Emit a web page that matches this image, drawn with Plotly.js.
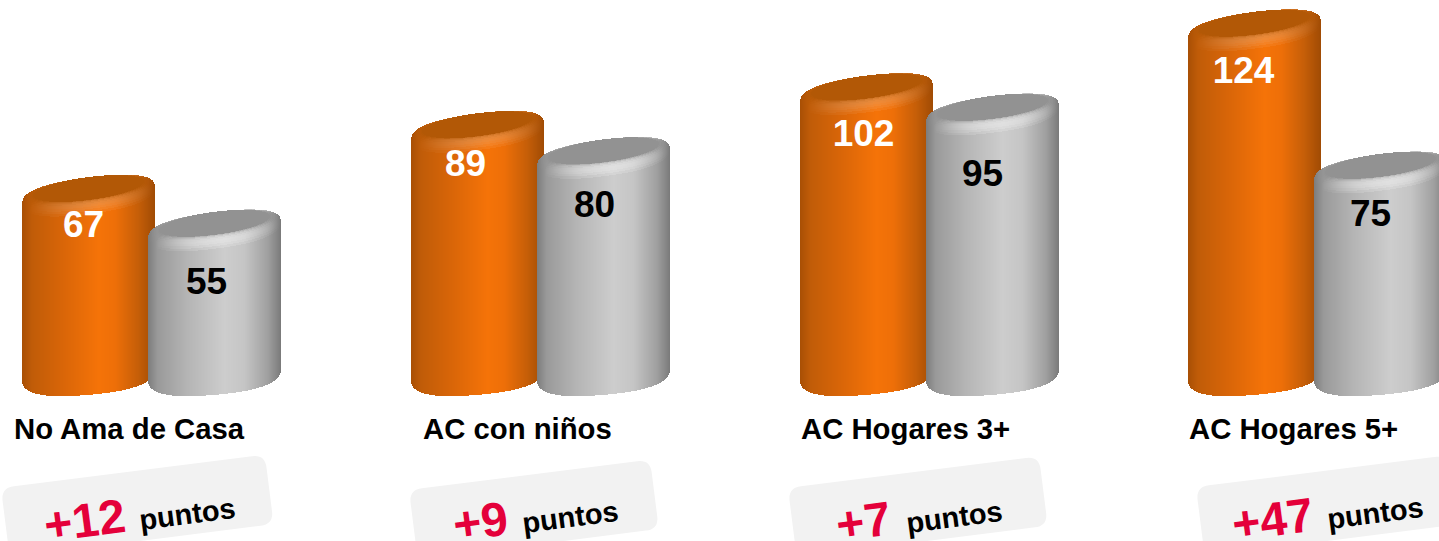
<!DOCTYPE html>
<html><head><meta charset="utf-8">
<script src="https://cdn.plot.ly/plotly-3.0.1.min.js"></script>
<style>html,body{margin:0;padding:0;background:#fff;overflow:hidden}#c{width:1439px;height:541px}</style>
</head><body><div id="c"></div>
<script>
const categories = ["No Ama de Casa", "AC con niños", "AC Hogares 3+", "AC Hogares 5+"];
const orangeValues = [67, 89, 102, 124];
const grayValues = [55, 80, 95, 75];
const pointLabels = ["+12", "+9", "+7", "+47"];
const pointsWord = "puntos";

// layout constants (pixels on the 1439x541 page)
const W = 1439, H = 541, PX_PER_UNIT = 2.9, ZERO_PX = 390.3, BASE_VALUE = 5.5;
const orangeCx = [88.5, 477.5, 866.5, 1254.5], grayDx = 126;
const RX = 66.5, B = 20.5, TILT_TOP = 0.125, TILT_BOT = 0.085, SUPER = 2.5;
const orangeLabelOff = [[-5,32],[-12,35],[-3,42],[-11,43]];
const grayLabelOff = [[-8,54],[-9,49],[-10,62],[-10,44]];
const catX = [13, 422, 800, 1188], catY = 428;
const boxes = [[1,488,266,70],[409,490,243,70],[788,488,253,70],[1196,487,253,70]];
const BOX_ANGLE = -7.2;
const bigPos = [[84,520],[480,521],[863,521],[1272,519]];
const wordPos = [[187,514],[570,517],[954,517],[1375,513]];

const FONT = "Liberation Sans, Arial, sans-serif";
const pxToVal = p => (ZERO_PX - p) / PX_PER_UNIT;
const lenToVal = p => p / PX_PER_UNIT;

const orangeStops = [[-1,[168,79,5]],[-.85,[192,92,8]],[-.4,[216,101,8]],[.15,[245,115,8]],[.4,[238,111,8]],[.75,[197,94,8]],[1,[160,75,4]]];
const grayStops = [[-1,[125,125,125]],[-.85,[154,154,154]],[-.4,[181,181,181]],[.15,[205,205,205]],[.45,[197,197,197]],[.8,[160,160,160]],[1,[122,122,122]]];
const orangeCap = [178,88,6], grayCap = [146,146,146];

function ramp(stops,u){
  for(let i=1;i<stops.length;i++){
    if(u<=stops[i][0]){
      const a=stops[i-1],b=stops[i],t=(u-a[0])/(b[0]-a[0]);
      return a[1].map((c,k)=>c+(b[1][k]-c)*t);
    }
  }
  return stops[stops.length-1][1];
}
const rgb = c => "rgb("+c.map(v=>Math.max(0,Math.min(255,Math.round(v)))).join(",")+")";
const curve = (u,p) => Math.pow(1-Math.pow(Math.abs(u),p),1/p);

function cylinder(cx, value, stops, cap, hi){
  const xs=[],ys=[],bases=[],cols=[];
  const cyVal = value;
  for(let px=Math.ceil(cx-RX);px<Math.floor(cx+RX);px++){
    const dx=px+.5-cx,u=dx/RX;
    if(Math.abs(u)>=1||px>=W)continue;
    const r=curve(u,SUPER);
    const top=cyVal+lenToVal(TILT_TOP*dx);
    const bot=BASE_VALUE+lenToVal(TILT_BOT*dx-B*r);
    xs.push(px+.5);ys.push(top-bot);bases.push(bot);cols.push(rgb(ramp(stops,u)));
  }
  const N=10;
  for(let k=0;k<=N;k++){
    const s=k/N,th=s*Math.PI/2;
    const a=RX-11*(1-Math.cos(th));
    const front=B-9*Math.sin(th);
    const back=18-6.5*Math.sin(th);
    const lift=7.5*Math.sin(th);
    const p=SUPER-.5*s;
    for(let px=Math.ceil(cx-a);px<Math.floor(cx+a);px++){
      const dx=px+.5-cx,u=dx/a;
      if(Math.abs(u)>=1||px>=W)continue;
      const r=curve(u,p);
      const yc=cyVal+lenToVal(lift+TILT_TOP*dx);
      const hf=lenToVal(front*r), hb=lenToVal(back*r);
      const base=ramp(stops,dx/RX);
      const m=k===N?1:Math.pow(s,2.4);
      const glow=k===N?0:Math.sin(s*Math.PI)*hi*Math.max(0,1-Math.pow((u-.05)/.95,2));
      const c=base.map((v,i)=>v+(cap[i]-v)*m+(255-v)*glow);
      xs.push(px+.5);ys.push(hf+hb);bases.push(yc-hf);cols.push(rgb(c));
    }
  }
  return {type:"bar",x:xs,y:ys,base:bases,width:1,
    marker:{color:cols,line:{width:0}},hoverinfo:"skip",showlegend:false};
}

const traces=[];
categories.forEach((c,i)=>{
  traces.push(cylinder(orangeCx[i],orangeValues[i],orangeStops,orangeCap,.2));
  traces.push(cylinder(orangeCx[i]+grayDx,grayValues[i],grayStops,grayCap,.55));
});
traces.push({type:"scatter",mode:"text",hoverinfo:"skip",showlegend:false,
  x:orangeCx.map((c,i)=>c+orangeLabelOff[i][0]),
  y:orangeValues.map((v,i)=>v-lenToVal(orangeLabelOff[i][1])),
  text:orangeValues.map(String),textposition:"middle center",
  textfont:{family:FONT,size:37,color:"#ffffff",weight:700}});
traces.push({type:"scatter",mode:"text",hoverinfo:"skip",showlegend:false,
  x:orangeCx.map((c,i)=>c+grayDx+grayLabelOff[i][0]),
  y:grayValues.map((v,i)=>v-lenToVal(grayLabelOff[i][1])),
  text:grayValues.map(String),textposition:"middle center",
  textfont:{family:FONT,size:37,color:"#000000",weight:700}});

function boxPath(b){
  const [x,y,w,h]=b,r=13,t=BOX_ANGLE*Math.PI/180;
  const P=(a,d)=>{const X=x+a*Math.cos(t)-d*Math.sin(t),Y=y+a*Math.sin(t)+d*Math.cos(t);
    return X.toFixed(1)+","+(1-Y/H).toFixed(5);};
  return "M"+P(r,0)+" L"+P(w-r,0)+" Q"+P(w,0)+" "+P(w,r)+" L"+P(w,h-r)+" Q"+P(w,h)+" "+P(w-r,h)
    +" L"+P(r,h)+" Q"+P(0,h)+" "+P(0,h-r)+" L"+P(0,r)+" Q"+P(0,0)+" "+P(r,0)+" Z";
}
const shapes=boxes.map(b=>({type:"path",xref:"x",yref:"paper",path:boxPath(b),
  fillcolor:"#f2f2f2",line:{width:0},layer:"below"}));

const annotations=[];
categories.forEach((c,i)=>{
  annotations.push({xref:"x",yref:"paper",x:catX[i],y:1-catY/H,text:c,showarrow:false,
    xanchor:"left",yanchor:"middle",borderpad:0,font:{family:FONT,size:29.3,color:"#000",weight:700}});
  annotations.push({xref:"x",yref:"paper",x:bigPos[i][0],y:1-bigPos[i][1]/H,text:pointLabels[i],showarrow:false,
    xanchor:"center",yanchor:"middle",textangle:-7.5,borderpad:0,font:{family:FONT,size:48,color:"#e4003a",weight:700}});
  annotations.push({xref:"x",yref:"paper",x:wordPos[i][0],y:1-wordPos[i][1]/H,text:pointsWord,showarrow:false,
    xanchor:"center",yanchor:"middle",textangle:-7.5,borderpad:0,font:{family:FONT,size:29,color:"#000",weight:700}});
});

Plotly.newPlot("c",traces,{
  width:W,height:H,margin:{l:0,r:0,t:0,b:0},paper_bgcolor:"#fff",plot_bgcolor:"#fff",
  barmode:"overlay",bargap:0,showlegend:false,
  xaxis:{range:[0,W],visible:false,fixedrange:true},
  yaxis:{range:[pxToVal(H),pxToVal(0)],visible:false,fixedrange:true},
  shapes,annotations
},{displayModeBar:false,staticPlot:true});
</script></body></html>
